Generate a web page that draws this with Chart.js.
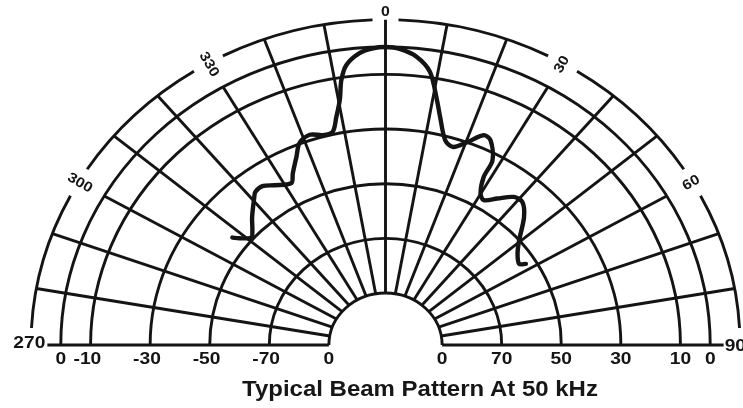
<!DOCTYPE html>
<html><head><meta charset="utf-8">
<script src="https://cdn.jsdelivr.net/npm/chart.js@4.4.0/dist/chart.umd.min.js"></script>
<style>
html,body{margin:0;padding:0;background:#fff;}
#wrap{position:relative;width:743px;height:408px;overflow:hidden;background:#fff;}
canvas{display:block;}
#cap{position:absolute;left:420px;top:377px;font:bold 22px "Liberation Sans",Arial,sans-serif;line-height:24px;white-space:nowrap;color:#161616;transform:translateX(-50%) scaleX(1.09);transform-origin:50% 50%;}
</style></head><body>
<div id="wrap"><canvas id="c" width="743" height="408"></canvas><div id="cap">Typical Beam Pattern At 50 kHz</div></div>
<script>
// ---- data (angle in degrees from the 0 axis, level in dB) ----
const BEAM_ANGLES = [-52.6,-51.5,-48.9,-46.8,-43.8,-39.2,-38.0,-35.4,-32.5,-28.1,-26.4,-23.5,-21.3,-18.3,-15.3,-12.8,-11.2,-9.7,-8.7,-7.3,-4.6,-2.2,0,2.5,5.7,8.5,10.9,12.4,15.0,17.4,20.3,23.2,25.2,28.0,28.2,29.9,31.9,35.0,38.5,41.3,44.8,49.5,53.0,56.5,57.8];
const BEAM_DB = [-44.3,-46.3,-49.2,-47.7,-44.3,-39.3,-38.0,-37.7,-39.7,-41.9,-39.0,-34.0,-29.6,-28.0,-29.4,-29.0,-24.0,-18.0,-11.0,-5.7,-1.8,-0.4,0,-0.6,-3.1,-8.0,-17.7,-23.6,-31.5,-33.1,-29.9,-25.5,-26.2,-32.5,-39.2,-45.0,-46.6,-43.6,-39.8,-39.4,-43.0,-50.0,-53.5,-55.2,-53.3];

const RING_DB = [0,-10,-30,-50,-70];
const INNER_DB = -90;
const LABEL_RING_DB = 10;
const SPOKE_ANGLES = [-90,-80,-70,-60,-50,-40,-30,-20,-10,0,10,20,30,40,50,60,70,80,90];
const ANGLE_LABEL_ANGLES = [-60,-30,0,30,60];
const ANGLE_LABEL_TEXT = ['300','330','0','30','60'];
const SIDE_LABEL_TEXT = ['270','90'];
const LEFT_TICK_DB = [0,-10,-30,-50,-70,-90];
const LEFT_TICK_TEXT = ['0','-10','-30','-50','-70','0'];
const RIGHT_TICK_DB = [-90,-70,-50,-30,-10,0];
const RIGHT_TICK_TEXT = ['0','70','50','30','10','0'];

const OFF = 109;            // radial units from the centre to the -109 dB point
const INK = '#141414';
const SX = 1.13;            // horizontal stretch of lettering
const rad = d => d*Math.PI/180;

const beamPoints = BEAM_ANGLES.map((a,i)=>({x:Math.sin(rad(a))*(BEAM_DB[i]+OFF), y:Math.cos(rad(a))*(BEAM_DB[i]+OFF)}));

const polarGrid = {
  id:'polarGrid',
  beforeDatasetsDraw(chart){
    const ctx = chart.ctx, xs = chart.scales.x, ys = chart.scales.y;
    const cx = xs.getPixelForValue(0), cy = ys.getPixelForValue(0);
    const rx = db => xs.getPixelForValue(db+OFF) - cx;
    const ry = db => cy - ys.getPixelForValue(db+OFF);
    const pt = (deg, db) => [xs.getPixelForValue(Math.sin(rad(deg))*(db+OFF)), ys.getPixelForValue(Math.cos(rad(deg))*(db+OFF))];
    ctx.save();
    ctx.strokeStyle = INK; ctx.lineWidth = 2.9; ctx.lineCap = 'butt';
    // rings
    RING_DB.concat([INNER_DB]).forEach(db=>{
      ctx.beginPath(); ctx.ellipse(cx,cy,rx(db),ry(db),0,Math.PI,2*Math.PI); ctx.stroke();
    });
    // outer label ring with gaps at labels
    const bounds = [-87];
    ANGLE_LABEL_ANGLES.forEach(a=>{ const g = a===0?2.1:2.7; bounds.push(a-g, a+g); });
    bounds.push(87);
    for(let i=0;i<bounds.length;i+=2){
      ctx.beginPath();
      ctx.ellipse(cx,cy,rx(LABEL_RING_DB),ry(LABEL_RING_DB),0,rad(bounds[i]-90),rad(bounds[i+1]-90));
      ctx.stroke();
    }
    // spokes
    SPOKE_ANGLES.forEach(a=>{
      let outer = LABEL_RING_DB;
      if (ANGLE_LABEL_ANGLES.includes(a) && a!==0) outer = 0;
      if (Math.abs(a)===90) outer = 4.5;
      const p0 = pt(a, INNER_DB), p1 = pt(a, outer);
      ctx.beginPath(); ctx.moveTo(p0[0],p0[1]); ctx.lineTo(p1[0],p1[1]); ctx.stroke();
    });
    // lettering
    ctx.fillStyle = INK; ctx.textBaseline = 'middle';
    const txt = (s,x,y,rot,align,font)=>{
      ctx.save(); ctx.translate(x,y); ctx.rotate(rot||0); ctx.scale(SX,1);
      ctx.font = font; ctx.textAlign = align||'center'; ctx.fillText(s,0,0); ctx.restore();
    };
    const F1 = 'bold 14px "Liberation Sans", Arial, sans-serif';
    const F2 = 'bold 17px "Liberation Sans", Arial, sans-serif';
    ANGLE_LABEL_ANGLES.forEach((a,i)=>{
      const r = a===0 ? 12.8 : LABEL_RING_DB - 0.5;
      const p = pt(a, r);
      const rot = a===0 ? 0 : (a>0 ? rad(a-90) : rad(a+90));
      txt(ANGLE_LABEL_TEXT[i], p[0], p[1], rot, 'center', F1);
    });
    const pl = pt(-90, 4.5), pr = pt(90, 4.5);
    txt(SIDE_LABEL_TEXT[0], pl[0]-2, cy-2, 0, 'right', F2);
    txt(SIDE_LABEL_TEXT[1], pr[0]+1, cy+1, 0, 'left', F2);
    const tickY = cy + 14;
    const tick = (s, x)=>{
      ctx.font = F2;
      const digits = s.replace('-','');
      const wd = ctx.measureText(digits).width;
      txt(s, x + wd*SX/2, tickY, 0, 'right', F2);
    };
    LEFT_TICK_DB.forEach((db,i)=> tick(LEFT_TICK_TEXT[i], pt(-90, db)[0]));
    RIGHT_TICK_DB.forEach((db,i)=> tick(RIGHT_TICK_TEXT[i], pt(90, db)[0]));
    ctx.restore();
  }
};

new Chart(document.getElementById('c'), {
  type:'scatter',
  data:{ datasets:[{
    data: beamPoints, showLine:true, borderColor:INK, borderWidth:4.4,
    pointRadius:0, tension:0.3, borderJoinStyle:'round', borderCapStyle:'round', fill:false
  }]},
  options:{
    responsive:false, animation:false, events:[],
    layout:{padding:0},
    plugins:{legend:{display:false}, tooltip:{enabled:false}, title:{display:false}},
    scales:{
      x:{type:'linear', min:-129.4, max:120.0, display:false},
      y:{type:'linear', min:-23.05, max:126.2, display:false}
    }
  },
  plugins:[polarGrid]
});
</script>
</body></html>
